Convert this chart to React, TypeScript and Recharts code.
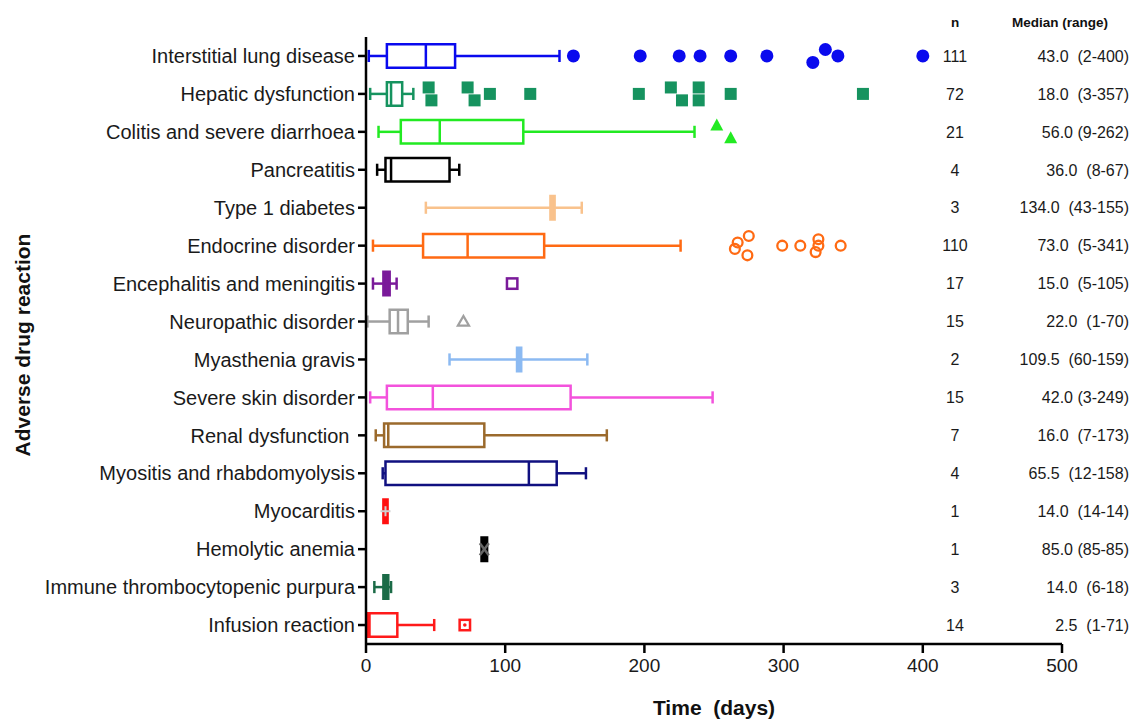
import React from 'react';
import { ScatterChart, Scatter, XAxis, YAxis, ReferenceArea, ReferenceLine } from 'recharts';

const reactions = [
  'Interstitial lung disease',
  'Hepatic dysfunction',
  'Colitis and severe diarrhoea',
  'Pancreatitis',
  'Type 1 diabetes',
  'Endocrine disorder',
  'Encephalitis and meningitis',
  'Neuropathic disorder',
  'Myasthenia gravis',
  'Severe skin disorder',
  'Renal dysfunction ',
  'Myositis and rhabdomyolysis',
  'Myocarditis',
  'Hemolytic anemia',
  'Immune thrombocytopenic purpura',
  'Infusion reaction',
];

const nCounts = [111, 72, 21, 4, 3, 110, 17, 15, 2, 15, 7, 4, 1, 1, 3, 14];
const medianRange = [
  '43.0  (2-400)', '18.0  (3-357)', '56.0 (9-262)', '36.0  (8-67)',
  '134.0  (43-155)', '73.0  (5-341)', '15.0  (5-105)', '22.0  (1-70)',
  '109.5  (60-159)', '42.0 (3-249)', '16.0  (7-173)', '65.5  (12-158)',
  '14.0  (14-14)', '85.0 (85-85)', '14.0  (6-18)', '2.5  (1-71)',
];

const xTicks = [0, 100, 200, 300, 400, 500];

// box plot stats as drawn (days)
const whiskerLow = [2, 3, 9, 8, 43, 5, 5, 1, 60, 3, 7, 12, 14, 85, 6, 1];
const q1 = [15, 15, 25, 14, 132.5, 41, 12.5, 17, 108.5, 15, 13, 14, 12.5, 83, 12.5, 1.5];
const median = [43, 18, 53, 18, 134, 73, 15, 23, 110, 48, 16, 117, 14, 85, 14, 2.5];
const q3 = [64, 26, 113, 60, 135.5, 128, 17, 30, 111.5, 147, 85, 137, 15.5, 87, 16, 22.5];
const whiskerHigh = [139, 34, 236, 67, 155, 226, 22, 45, 159, 249, 173, 158, 14, 85, 18, 49];

const outliers: number[][] = [
  [149, 197, 225, 240, 262, 288, 321, 330, 339, 400],
  [45, 47, 73, 78, 89, 118, 196, 219, 227, 239, 239, 262, 357],
  [252, 262],
  [],
  [],
  [265, 267, 274, 275, 299, 312, 323, 325, 325, 341],
  [105],
  [70],
  [],
  [],
  [],
  [],
  [],
  [],
  [],
  [71],
];

// single-case mean markers
const meanValues: (number | null)[] = [null, null, null, null, null, null, null, null, null, null, null, null, 14, 85, null, null];

const colors = [
  '#0a0aee', '#16935f', '#22ea22', '#000000', '#f9c28c', '#ff6a13', '#7a1a9a', '#a0a0a0',
  '#8cbaf2', '#f352dc', '#9b6a2c', '#101080', '#ff1010', '#000000', '#1b6b47', '#ff1a1a',
];
const markerKinds = [
  'disc', 'square', 'triangle', '', '', 'ring', 'openSquare', 'openTriangle',
  '', '', '', '', '', '', '', 'dotSquare',
];
const meanKinds = ['', '', '', '', '', '', '', '', '', '', '', '', 'plus', 'cross', '', ''];
const meanColors = ['', '', '', '', '', '', '', '', '', '', '', '', '#cfcfcf', '#666666', '', ''];

const FONT = '"Liberation Sans", Arial, sans-serif';
const BOX_HALF = 0.31;
const CAP_HALF = 0.16;
const LW = 2.5;

// spread points that sit too close together vertically (GraphPad-style stacking)
function clusterOffsets(k: number, h: number) {
  if (k === 1) return [0];
  if (k === 2) return [-h, h];
  if (k === 3) return [h, -h, 0];
  return Array.from({ length: k }, (_, j) => (j % 2 === 0 ? 1 : -1) * h * (0.5 + Math.floor(j / 2)));
}

function dodge(values: number[], gap: number, h: number) {
  const sorted = [...values].sort((a, b) => a - b);
  const clusters: number[][] = [];
  sorted.forEach((v) => {
    const last = clusters[clusters.length - 1];
    if (last && v - last[last.length - 1] < gap) last.push(v);
    else clusters.push([v]);
  });
  return clusters.flatMap((cl) => {
    const offs = clusterOffsets(cl.length, h);
    return cl.map((v, j) => ({ x: v, off: offs[j] }));
  });
}

function Marker({ cx, cy, kind, color }: { cx: number; cy: number; kind: string; color: string }) {
  switch (kind) {
    case 'disc':
      return <circle cx={cx} cy={cy} r={6.5} fill={color} />;
    case 'square':
      return <rect x={cx - 6} y={cy - 6} width={12} height={12} fill={color} />;
    case 'triangle':
      return <polygon points={`${cx},${cy - 7} ${cx + 6.5},${cy + 5} ${cx - 6.5},${cy + 5}`} fill={color} />;
    case 'ring':
      return <circle cx={cx} cy={cy} r={4.9} fill="none" stroke={color} strokeWidth={2.3} />;
    case 'openSquare':
      return <rect x={cx - 5.2} y={cy - 5.2} width={10.4} height={10.4} fill="#fff" stroke={color} strokeWidth={2.5} />;
    case 'openTriangle':
      return (
        <polygon
          points={`${cx},${cy - 5.5} ${cx + 5.5},${cy + 4} ${cx - 5.5},${cy + 4}`}
          fill="none" stroke={color} strokeWidth={2.3} strokeLinejoin="miter"
        />
      );
    case 'dotSquare':
      return (
        <g>
          <rect x={cx - 5.2} y={cy - 5.2} width={10.4} height={10.4} fill="#fff" stroke={color} strokeWidth={2.5} />
          <circle cx={cx} cy={cy} r={1.8} fill={color} />
        </g>
      );
    case 'plus':
      return (
        <g stroke={color} strokeWidth={2}>
          <line x1={cx - 5} y1={cy} x2={cx + 5} y2={cy} />
          <line x1={cx} y1={cy - 5} x2={cx} y2={cy + 5} />
        </g>
      );
    case 'cross':
      return (
        <g stroke={color} strokeWidth={2.5}>
          <line x1={cx - 4.5} y1={cy - 6} x2={cx + 4.5} y2={cy + 6} />
          <line x1={cx + 4.5} y1={cy - 6} x2={cx - 4.5} y2={cy + 6} />
        </g>
      );
    default:
      return null;
  }
}

// row label on the left plus the n / median (range) columns on the right
function RowTick(props: any) {
  const { x, y, payload, index } = props;
  const i = payload.value as number;
  return (
    <g fontFamily={FONT} fill="#1a1a1a">
      <text x={x} y={y} dy="0.36em" textAnchor="end" fontSize={20} fill="#1a1a1a" style={{ whiteSpace: 'pre' }}>
        {reactions[i]}
      </text>
      {index === 0 && (
        <g fontWeight="bold" fontSize={13.5} fill="#111">
          <text x={955} y={27} textAnchor="middle">n</text>
          <text x={1060} y={27} textAnchor="middle">Median (range)</text>
        </g>
      )}
      <text x={955} y={y} dy="0.36em" textAnchor="middle" fontSize={16} fill="#1a1a1a">{nCounts[i]}</text>
      <text x={1129} y={y} dy="0.36em" textAnchor="end" fontSize={16} fill="#1a1a1a" style={{ whiteSpace: 'pre' }}>
        {medianRange[i]}
      </text>
    </g>
  );
}

function XTick(props: any) {
  const { x, y, payload } = props;
  return (
    <text x={x} y={y} dy="0.8em" textAnchor="middle" fontSize={19} fill="#1a1a1a" fontFamily={FONT}>
      {payload.value}
    </text>
  );
}

const rowTicks = reactions.map((_, i) => i);

export default function App() {
  return (
    <div style={{ position: 'absolute', left: 0, top: 0, width: 1132, height: 724, background: '#fff' }}>
      <ScatterChart width={1132} height={724} margin={{ top: 37, right: 70, bottom: 0, left: 0 }} style={{ fontFamily: FONT }}>
        <XAxis
          type="number"
          dataKey="x"
          domain={[0, 500]}
          ticks={xTicks}
          height={80}
          tickSize={9}
          tickMargin={4}
          axisLine={{ stroke: '#000', strokeWidth: LW }}
          tickLine={{ stroke: '#000', strokeWidth: LW }}
          tick={<XTick />}
          label={{
            content: (p: any) => {
              const vb = p.viewBox;
              return (
                <text x={vb.x + vb.width / 2} y={vb.y + 71} textAnchor="middle" fontWeight="bold" fontSize={21} fill="#111" fontFamily={FONT} style={{ whiteSpace: 'pre' }}>
                  Time  (days)
                </text>
              );
            },
          }}
        />
        <YAxis
          type="number"
          dataKey="y"
          domain={[-0.5, 15.5]}
          reversed
          ticks={rowTicks}
          interval={0}
          width={366}
          tickSize={8}
          tickMargin={3}
          axisLine={{ stroke: '#000', strokeWidth: LW }}
          tickLine={{ stroke: '#000', strokeWidth: LW }}
          tick={<RowTick />}
          label={{
            content: () => (
              <text x={22} y={345} transform="rotate(-90, 22, 345)" textAnchor="middle" dominantBaseline="central" fontWeight="bold" fontSize={21} fill="#111" fontFamily={FONT}>
                Adverse drug reaction
              </text>
            ),
          }}
        />

        {reactions.map((_, i) => {
          const c = colors[i];
          const narrow = q3[i] - q1[i] < 5;
          return (
            <React.Fragment key={`box-${i}`}>
              {whiskerLow[i] < q1[i] && (
                <ReferenceLine segment={[{ x: whiskerLow[i], y: i }, { x: q1[i], y: i }]} stroke={c} strokeWidth={LW} />
              )}
              {whiskerHigh[i] > q3[i] && (
                <ReferenceLine segment={[{ x: q3[i], y: i }, { x: whiskerHigh[i], y: i }]} stroke={c} strokeWidth={LW} />
              )}
              {whiskerLow[i] < q1[i] && (
                <ReferenceLine segment={[{ x: whiskerLow[i], y: i - CAP_HALF }, { x: whiskerLow[i], y: i + CAP_HALF }]} stroke={c} strokeWidth={LW} />
              )}
              {whiskerHigh[i] > q3[i] && (
                <ReferenceLine segment={[{ x: whiskerHigh[i], y: i - CAP_HALF }, { x: whiskerHigh[i], y: i + CAP_HALF }]} stroke={c} strokeWidth={LW} />
              )}
              <ReferenceArea
                x1={q1[i]}
                x2={q3[i]}
                y1={i - BOX_HALF}
                y2={i + BOX_HALF}
                fill={narrow ? c : '#fff'}
                fillOpacity={1}
                stroke={c}
                strokeWidth={LW}
              />
              <ReferenceLine segment={[{ x: median[i], y: i - BOX_HALF }, { x: median[i], y: i + BOX_HALF }]} stroke={c} strokeWidth={LW} />
            </React.Fragment>
          );
        })}

        {outliers.map((vals, i) =>
          vals.length ? (
            <Scatter
              key={`out-${i}`}
              data={dodge(vals, 10.5, 0.17).map((p) => ({ x: p.x, y: i + p.off }))}
              isAnimationActive={false}
              shape={(p: any) => <Marker cx={p.cx} cy={p.cy} kind={markerKinds[i]} color={colors[i]} />}
            />
          ) : null
        )}

        {meanValues.map((m, i) =>
          m !== null ? (
            <Scatter
              key={`mean-${i}`}
              data={[{ x: m, y: i }]}
              isAnimationActive={false}
              shape={(p: any) => <Marker cx={p.cx} cy={p.cy} kind={meanKinds[i]} color={meanColors[i]} />}
            />
          ) : null
        )}
      </ScatterChart>
    </div>
  );
}
